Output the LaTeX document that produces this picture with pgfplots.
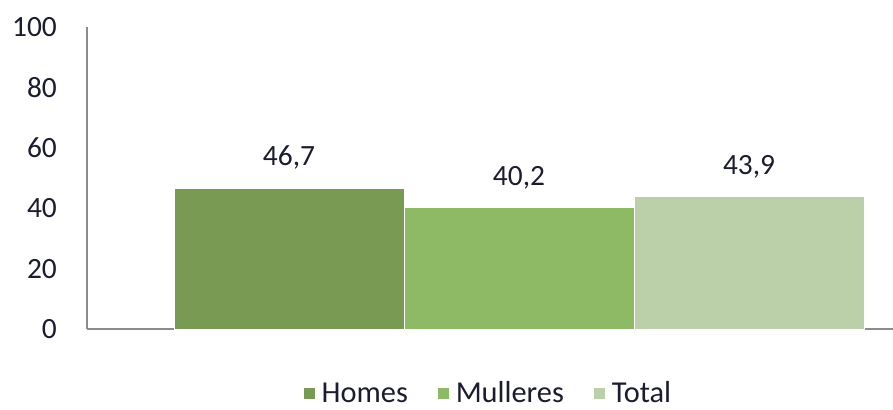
\documentclass[border=0pt]{standalone}
\usepackage{pgfplots}
\pgfplotsset{compat=1.18}
\usepackage{fontspec}
\setmainfont{Carlito}
\definecolor{cH}{HTML}{789A52}
\definecolor{cM}{HTML}{8EBA65}
\definecolor{cT}{HTML}{BBD0A8}
\definecolor{txt}{HTML}{1C1C30}
\definecolor{axc}{HTML}{8C8C8C}
\begin{document}
\begin{tikzpicture}
\begin{axis}[
  at={(0,0)}, anchor=south west,
  scale only axis, width=806bp, height=302bp,
  xmin=-0.878, xmax=2.626, ymin=0, ymax=100,
  axis lines*=left,
  axis line style={axc, line width=1.2bp},
  xtick=\empty,
  ytick={0,20,40,60,80,100},
  major tick length=0pt,
  /pgf/number format/assume math mode=true,
  yticklabel style={inner sep=0pt, xshift=-30bp, font=\fontsize{29.5}{34}\selectfont, text=txt},
  ybar, bar width=1, bar shift=0pt,
  nodes near coords={\pgfmathprintnumber[use comma, fixed, precision=1, fixed zerofill]{\pgfplotspointmeta}},
  every node near coord/.append style={anchor=base, yshift=22bp, inner sep=0pt, font=\fontsize{29.5}{34}\selectfont, text=txt},
  legend columns=3,
  legend style={draw=none, fill=none, at={(axis description cs:0.497,-0.212)}, anchor=center,
    font=\fontsize{30.5}{34}\selectfont, text=txt, inner sep=0pt,
    nodes={inner sep=1bp},
    /tikz/every odd column/.append style={column sep=5bp},
    /tikz/every even column/.append style={column sep=28bp}},
  legend image code/.code={\fill[#1] (0bp,-6bp) rectangle (12bp,6bp);},
]
\addplot[fill=cH, draw=white, line width=0.8bp] coordinates {(0,46.7)};
\addlegendentry{Homes}
\addplot[fill=cM, draw=white, line width=0.8bp] coordinates {(1,40.2)};
\addlegendentry{Mulleres}
\addplot[fill=cT, draw=white, line width=0.8bp] coordinates {(2,43.9)};
\addlegendentry{Total}
\end{axis}
\pgfresetboundingbox
\path[use as bounding box] (-87bp,-81bp) rectangle (806bp,329bp);
\end{tikzpicture}
\end{document}
